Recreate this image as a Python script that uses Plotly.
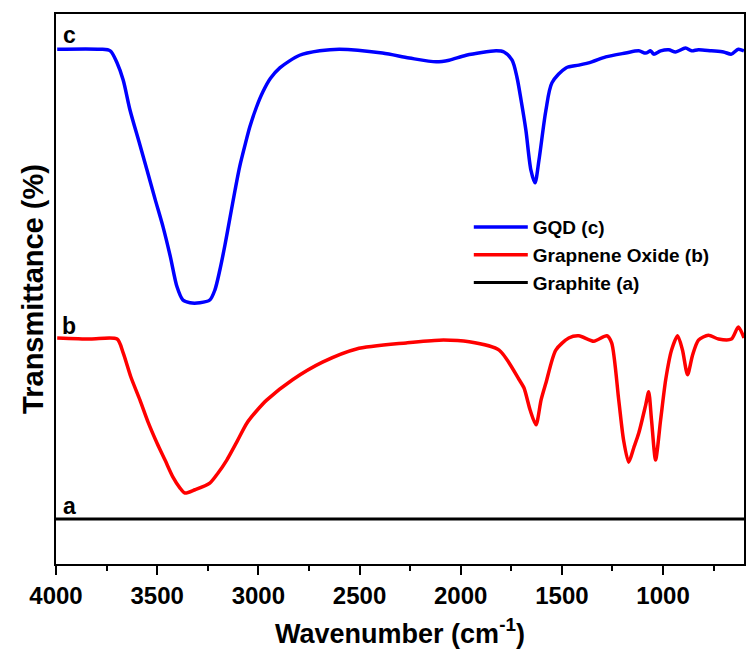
import plotly.graph_objects as go

# GQD (c)
wn_c = [3994, 3782, 3732, 3698, 3668, 3634, 3590, 3550, 3510, 3471, 3435, 3402, 3373, 3338, 3289,
        3240, 3215, 3190, 3165, 3140, 3115, 3092, 3065, 3042, 3010, 2978, 2940, 2894, 2796, 2697,
        2599, 2387, 2254, 2121, 2057, 1973, 1825, 1786, 1746, 1722, 1702, 1678, 1653, 1633, 1613,
        1579, 1549, 1480, 1416, 1352, 1283, 1185, 1120, 1086, 1061, 1046, 1012, 972, 938, 889, 859,
        825, 761, 701, 662, 628, 600]
t_c = [93.6, 93.6, 93.3, 91.1, 88.0, 82.5, 76.8, 71.6, 66.3, 61.3, 55.9, 50.4, 48.0, 47.5, 47.5,
       48.0, 49.8, 53.5, 58.0, 63.0, 68.0, 72.3, 76.3, 79.5, 83.0, 85.8, 88.3, 90.2, 92.5, 93.3,
       93.6, 92.9, 92.0, 91.3, 91.6, 92.5, 93.3, 93.1, 91.6, 88.5, 84.4, 78.9, 71.6, 69.3, 73.5,
       82.5, 87.5, 90.2, 90.7, 91.3, 92.2, 92.9, 93.3, 92.9, 93.3, 92.7, 93.3, 93.5, 93.1, 93.8,
       93.3, 93.5, 93.3, 93.1, 92.7, 93.6, 93.3]

# Graphene oxide (b)
wn_b = [3994, 3831, 3698, 3668, 3630, 3585, 3545, 3501, 3460, 3422, 3387, 3363, 3313, 3240, 3200,
        3156, 3105, 3057, 3005, 2959, 2831, 2683, 2515, 2269, 2106, 1958, 1810, 1711, 1687, 1657,
        1628, 1603, 1579, 1530, 1466, 1416, 1342, 1278, 1254, 1219, 1195, 1170, 1145, 1120, 1086,
        1071, 1057, 1037, 1012, 987, 958, 928, 904, 879, 854, 825, 776, 726, 662, 628, 600]
t_b = [41.1, 40.9, 40.9, 38.4, 34.0, 29.8, 25.8, 22.0, 18.8, 15.8, 13.8, 12.9, 13.5, 14.7, 16.5,
       18.9, 22.3, 25.6, 28.0, 29.8, 33.5, 36.7, 39.1, 40.2, 40.7, 40.4, 38.9, 33.5, 32.0, 28.0,
       25.3, 29.8, 32.9, 38.9, 41.1, 41.5, 40.5, 41.5, 40.2, 29.8, 22.5, 18.5, 21.1, 23.8, 28.9,
       31.3, 26.2, 18.9, 26.2, 33.5, 38.9, 41.5, 38.9, 34.4, 38.0, 40.7, 41.6, 40.9, 40.9, 43.1,
       41.1]

# Graphite (a)
wn_a = [4000, 3500, 3000, 2500, 2000, 1500, 1000, 600]
t_a = [8.2, 8.2, 8.2, 8.2, 8.2, 8.2, 8.2, 8.2]

names = ["GQD (c)", "Grapnene Oxide (b)", "Graphite (a)"]
curve_labels = ["c", "b", "a"]
label_y = [96.2, 43.3, 10.5]

FONT = "Liberation Sans"

fig = go.Figure()
fig.add_trace(go.Scatter(x=wn_c, y=t_c, mode="lines", name=names[0],
                         line=dict(color="#0000ff", width=3.5, shape="spline", smoothing=0.8)))
fig.add_trace(go.Scatter(x=wn_b, y=t_b, mode="lines", name=names[1],
                         line=dict(color="#ff0000", width=3.5, shape="spline", smoothing=0.7)))
fig.add_trace(go.Scatter(x=wn_a, y=t_a, mode="lines", name=names[2],
                         line=dict(color="#000000", width=3)))

for lab, yy in zip(curve_labels, label_y):
    fig.add_annotation(x=3935, y=yy, text=lab, showarrow=False, xref="x", yref="y",
                       font=dict(family=FONT, size=23, color="black", weight="bold"))

fig.update_layout(
    width=747, height=656,
    margin=dict(l=56, r=1, t=14, b=92),
    paper_bgcolor="white", plot_bgcolor="white",
    font=dict(family=FONT, color="black", weight="bold"),
    showlegend=True,
    legend=dict(x=0.60, y=0.647, xanchor="left", yanchor="top",
                bgcolor="rgba(0,0,0,0)", borderwidth=0,
                font=dict(family=FONT, size=19, color="black", weight="bold"),
                itemwidth=54, tracegroupgap=0),
    xaxis=dict(range=[4000, 600], tickmode="array",
               tickvals=[4000, 3500, 3000, 2500, 2000, 1500, 1000],
               ticktext=["4000", "3500", "3000", "2500", "2000", "1500", "1000"],
               ticks="outside", ticklen=9, tickwidth=2, tickcolor="black",
               minor=dict(ticks="outside", ticklen=5, tickwidth=2, dtick=250, tick0=0, tickcolor="black"),
               showline=True, linewidth=2, linecolor="black", mirror=True,
               showgrid=False, zeroline=False,
               tickfont=dict(family=FONT, size=24, color="black", weight="bold"),
               title=dict(text="Wavenumber (cm<sup>-1</sup>)", standoff=16,
                          font=dict(family=FONT, size=27, color="black", weight="bold"))),
    yaxis=dict(range=[0, 100], showticklabels=False, ticks="",
               showline=True, linewidth=2, linecolor="black", mirror=True,
               showgrid=False, zeroline=False,
               title=dict(text="Transmittance (%)", standoff=2,
                          font=dict(family=FONT, size=29, color="black", weight="bold"))),
)

fig.write_html("out.html")
